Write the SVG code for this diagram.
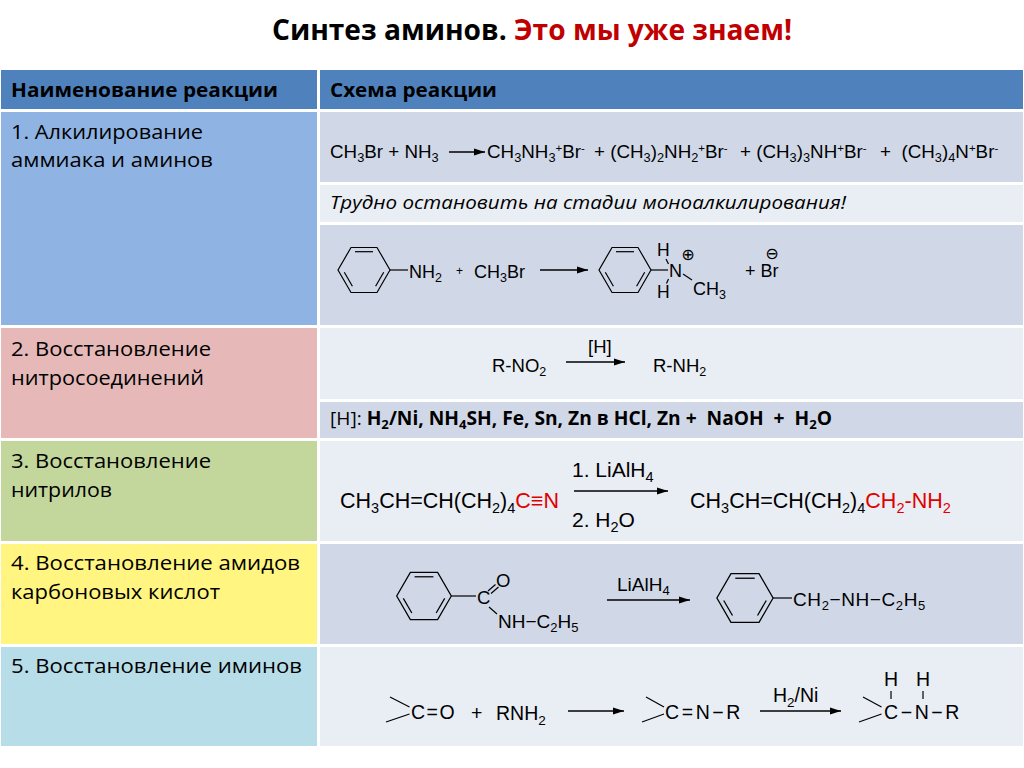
<svg xmlns="http://www.w3.org/2000/svg" xmlns:xlink="http://www.w3.org/1999/xlink" width="1024" height="768" viewBox="0 0 1024 768">
<style>
.cal{font-family:"Open Sans","Noto Sans","DejaVu Sans",sans-serif;fill:#000}
.chem{font-family:"Liberation Sans",Arial,"DejaVu Sans",sans-serif;fill:#000}
.red{fill:#E00000}
.bond{stroke:#000;stroke-width:1.2;fill:none}
.arr{stroke:#000;stroke-width:1.3;fill:none;marker-end:url(#ah)}
.hdr{fill:#4F81BD}
.dk{fill:#D0D8E8}
.lt{fill:#E9EDF4}
.sym{font-family:"DejaVu Sans",sans-serif;fill:#000}
</style>
<defs>
<marker id="ah" markerUnits="userSpaceOnUse" markerWidth="12" markerHeight="8" refX="11" refY="4" orient="auto">
<path d="M0,0.5 L11,4 L0,7.5 Z" fill="#000"/>
</marker>
<g id="benz">
<polygon points="26,0 13,22.5 -13,22.5 -26,0 -13,-22.5 13,-22.5" class="bond"/>
<line x1="-9" y1="-18.3" x2="9" y2="-18.3" class="bond"/>
<line x1="19.7" y1="2.3" x2="11.6" y2="16.2" class="bond"/>
<line x1="-11.6" y1="16.2" x2="-19.7" y2="2.3" class="bond"/>
</g>
</defs>
<rect width="1024" height="768" fill="#fff"/>

<g id="title">
<text class="cal" x="272" y="40" font-size="28.5" font-weight="bold" textLength="520" lengthAdjust="spacingAndGlyphs">Синтез аминов. <tspan fill="#C00000">Это мы уже знаем!</tspan></text>
</g>

<g id="header-name">
<rect class="hdr" x="1" y="70" width="316" height="39"/>
<text class="cal" x="11" y="97" font-size="19.5" font-weight="bold" textLength="267" lengthAdjust="spacingAndGlyphs">Наименование реакции</text>
</g>
<g id="header-scheme">
<rect class="hdr" x="320" y="70" width="703" height="39"/>
<text class="cal" x="330" y="97" font-size="19.5" font-weight="bold" textLength="167" lengthAdjust="spacingAndGlyphs">Схема реакции</text>
</g>

<g id="row1-name">
<rect x="1" y="112" width="316" height="213" fill="#8FB4E3"/>
<text class="cal" x="11" y="139" font-size="20.5" textLength="192" lengthAdjust="spacingAndGlyphs">1. Алкилирование</text>
<text class="cal" x="11" y="167" font-size="20.5" textLength="202" lengthAdjust="spacingAndGlyphs">аммиака и аминов</text>
</g>
<g id="row2-name">
<rect x="1" y="328" width="316" height="110" fill="#E6B9B8"/>
<text class="cal" x="11" y="356" font-size="20.5" textLength="200" lengthAdjust="spacingAndGlyphs">2. Восстановление</text>
<text class="cal" x="11" y="385" font-size="20.5" textLength="193" lengthAdjust="spacingAndGlyphs">нитросоединений</text>
</g>
<g id="row3-name">
<rect x="1" y="441" width="316" height="100" fill="#C3D69B"/>
<text class="cal" x="11" y="468" font-size="20.5" textLength="200" lengthAdjust="spacingAndGlyphs">3. Восстановление</text>
<text class="cal" x="11" y="497" font-size="20.5" textLength="101" lengthAdjust="spacingAndGlyphs">нитрилов</text>
</g>
<g id="row4-name">
<rect x="1" y="544" width="316" height="100" fill="#FFF580"/>
<text class="cal" x="11" y="570" font-size="20.5" textLength="289" lengthAdjust="spacingAndGlyphs">4. Восстановление амидов</text>
<text class="cal" x="11" y="599" font-size="20.5" textLength="209" lengthAdjust="spacingAndGlyphs">карбоновых кислот</text>
</g>
<g id="row5-name">
<rect x="1" y="647" width="316" height="99" fill="#B7DDE8"/>
<text class="cal" x="11" y="673" font-size="20.5" textLength="291" lengthAdjust="spacingAndGlyphs">5. Восстановление иминов</text>
</g>

<g id="row1-scheme-a">
<rect class="dk" x="320" y="112" width="703" height="70"/>
<text class="chem" x="330" y="158" font-size="18.8">CH<tspan font-size="12.8" dy="4">3</tspan><tspan dy="-4">Br + NH</tspan><tspan font-size="12.8" dy="4">3</tspan></text>
<text class="chem" x="487" y="158" font-size="18.8">CH<tspan font-size="12.8" dy="4">3</tspan><tspan dy="-4">NH</tspan><tspan font-size="12.8" dy="4">3</tspan><tspan font-size="11.5" dy="-10">+</tspan><tspan dy="6">Br</tspan><tspan font-size="11.5" dy="-6">-</tspan></text>
<text class="chem" x="594" y="158" font-size="18.8">+ (CH<tspan font-size="12.8" dy="4">3</tspan><tspan dy="-4">)</tspan><tspan font-size="12.8" dy="4">2</tspan><tspan dy="-4">NH</tspan><tspan font-size="12.8" dy="4">2</tspan><tspan font-size="11.5" dy="-10">+</tspan><tspan dy="6">Br</tspan><tspan font-size="11.5" dy="-6">-</tspan></text>
<text class="chem" x="740" y="158" font-size="18.8">+ (CH<tspan font-size="12.8" dy="4">3</tspan><tspan dy="-4">)</tspan><tspan font-size="12.8" dy="4">3</tspan><tspan dy="-4">NH</tspan><tspan font-size="11.5" dy="-6">+</tspan><tspan dy="6">Br</tspan><tspan font-size="11.5" dy="-6">-</tspan></text>
<text class="chem" x="880" y="158" font-size="18.8" xml:space="preserve">+  (CH<tspan font-size="12.8" dy="4">3</tspan><tspan dy="-4">)</tspan><tspan font-size="12.8" dy="4">4</tspan><tspan dy="-4">N</tspan><tspan font-size="11.5" dy="-6">+</tspan><tspan dy="6">Br</tspan><tspan font-size="11.5" dy="-6">-</tspan></text>
</g>
<g id="row1-scheme-b">
<rect class="lt" x="320" y="185" width="703" height="37"/>
<text class="cal" x="330" y="209" font-size="19" font-style="italic" textLength="516" lengthAdjust="spacingAndGlyphs">Трудно остановить на стадии моноалкилирования!</text>
</g>
<g id="row1-scheme-c">
<rect class="dk" x="320" y="225" width="703" height="100"/>
<use xlink:href="#benz" href="#benz" transform="translate(364,270)"/>
<line class="bond" x1="390" y1="270" x2="408" y2="270"/>
<text class="chem" x="409" y="278" font-size="18">NH<tspan font-size="12.5" dy="4">2</tspan></text>
<text class="chem" x="456" y="275" font-size="12">+</text>
<text class="chem" x="474" y="278" font-size="18">CH<tspan font-size="12.5" dy="4">3</tspan><tspan dy="-4">Br</tspan></text>
<use xlink:href="#benz" href="#benz" transform="translate(625,270)"/>
<line class="bond" x1="651" y1="270" x2="668" y2="270"/>
<text class="chem" x="669" y="277" font-size="18">N</text>
<text class="chem" x="657" y="256" font-size="17.5">H</text>
<text class="chem" x="657" y="298" font-size="17.5">H</text>
<line class="bond" x1="666" y1="259" x2="668.5" y2="264"/>
<line class="bond" x1="668.5" y1="279" x2="666.5" y2="283.5"/>
<line class="bond" x1="683" y1="274" x2="692" y2="280"/>
<text class="sym" x="688" y="260" font-size="16" text-anchor="middle">⊕</text>
<text class="chem" x="693" y="295" font-size="18">CH<tspan font-size="12.5" dy="4">3</tspan></text>
<text class="chem" x="745" y="277" font-size="18">+ Br</text>
<text class="sym" x="772" y="259" font-size="16" text-anchor="middle">⊖</text>
</g>

<g id="row2-scheme-a">
<rect class="lt" x="320" y="328" width="703" height="71"/>
<text class="chem" x="492" y="372" font-size="18.5">R-NO<tspan font-size="12.5" dy="4">2</tspan></text>
<text class="chem" x="588" y="353" font-size="18.5">[H]</text>
<text class="chem" x="653" y="372" font-size="18.5">R-NH<tspan font-size="12.5" dy="4">2</tspan></text>
</g>
<g id="row2-scheme-b">
<rect class="dk" x="320" y="402" width="703" height="36"/>
<text class="cal" x="330" y="425" font-size="19" textLength="502" lengthAdjust="spacingAndGlyphs" xml:space="preserve">[H]: <tspan font-weight="bold">H<tspan font-size="13" dy="4">2</tspan><tspan dy="-4">/Ni, NH</tspan><tspan font-size="13" dy="4">4</tspan><tspan dy="-4">SH, Fe, Sn, Zn в HCl, Zn +  NaOH  +  H</tspan><tspan font-size="13" dy="4">2</tspan><tspan dy="-4">O</tspan></tspan></text>
</g>

<g id="row3-scheme">
<rect class="lt" x="320" y="441" width="703" height="100"/>
<text class="chem" x="340" y="508" font-size="21.5">CH<tspan font-size="14.5" dy="5">3</tspan><tspan dy="-5">CH=CH(CH</tspan><tspan font-size="14.5" dy="5">2</tspan><tspan dy="-5">)</tspan><tspan font-size="14.5" dy="5">4</tspan><tspan dy="-5" class="red">C≡N</tspan></text>
<text class="chem" x="572" y="477" font-size="21">1. LiAlH<tspan font-size="14.5" dy="5">4</tspan></text>
<text class="chem" x="572" y="527" font-size="21">2. H<tspan font-size="14.5" dy="5">2</tspan><tspan dy="-5">O</tspan></text>
<text class="chem" x="690" y="508" font-size="21.5">CH<tspan font-size="14.5" dy="5">3</tspan><tspan dy="-5">CH=CH(CH</tspan><tspan font-size="14.5" dy="5">2</tspan><tspan dy="-5">)</tspan><tspan font-size="14.5" dy="5">4</tspan><tspan dy="-5" class="red">CH</tspan><tspan font-size="14.5" dy="5" class="red">2</tspan><tspan dy="-5" class="red">-NH</tspan><tspan font-size="14.5" dy="5" class="red">2</tspan></text>
</g>

<g id="row4-scheme">
<rect class="dk" x="320" y="544" width="703" height="100"/>
<use xlink:href="#benz" href="#benz" transform="translate(424,596) scale(1.05)"/>
<line class="bond" x1="451.3" y1="596" x2="476" y2="596"/>
<text class="chem" x="477" y="604" font-size="18.5">C</text>
<text class="chem" x="496" y="587" font-size="18.5">O</text>
<line class="bond" x1="488" y1="591" x2="495.5" y2="584.5"/>
<line class="bond" x1="491" y1="593.5" x2="498.5" y2="587"/>
<line class="bond" x1="489" y1="607" x2="497" y2="614"/>
<text class="chem" x="498" y="628" font-size="19">NH−C<tspan font-size="13" dy="4">2</tspan><tspan dy="-4">H</tspan><tspan font-size="13" dy="4">5</tspan></text>
<text class="chem" x="617" y="591" font-size="19">LiAlH<tspan font-size="13" dy="4">4</tspan></text>
<use xlink:href="#benz" href="#benz" transform="translate(745,598) scale(1.08)"/>
<line class="bond" x1="773" y1="598" x2="792" y2="598"/>
<text class="chem" x="793" y="606" font-size="19" letter-spacing="0.6">CH<tspan font-size="13" dy="4">2</tspan><tspan dy="-4">−NH−C</tspan><tspan font-size="13" dy="4">2</tspan><tspan dy="-4">H</tspan><tspan font-size="13" dy="4">5</tspan></text>
</g>

<g id="row5-scheme">
<rect class="lt" x="320" y="647" width="703" height="99"/>
<line class="bond" x1="390" y1="697" x2="409.5" y2="707"/>
<line class="bond" x1="386" y1="722" x2="409.5" y2="714"/>
<text class="chem" x="411" y="719" font-size="19.5" letter-spacing="1.5">C=O</text>
<text class="chem" x="471" y="720" font-size="19.5">+</text>
<text class="chem" x="496" y="720" font-size="19.5">RNH<tspan font-size="13.5" dy="5">2</tspan></text>
<line class="bond" x1="646" y1="697" x2="664" y2="707"/>
<line class="bond" x1="642" y1="722" x2="664" y2="714"/>
<text class="chem" x="665" y="719" font-size="19.5" letter-spacing="2.6">C=N−R</text>
<text class="chem" x="773" y="702" font-size="19.5">H<tspan font-size="13.5" dy="5">2</tspan><tspan dy="-5">/Ni</tspan></text>
<line class="bond" x1="863" y1="697" x2="881.5" y2="707"/>
<line class="bond" x1="859" y1="722" x2="881.5" y2="714"/>
<text class="chem" x="884" y="719" font-size="19.5" letter-spacing="2.6">C−N−R</text>
<text class="chem" x="884" y="686" font-size="19.5">H</text>
<text class="chem" x="916" y="686" font-size="19.5">H</text>
<line class="bond" x1="891" y1="691" x2="891" y2="699"/>
<line class="bond" x1="923" y1="691" x2="923" y2="699"/>
</g>

<g id="connectors">
<line class="arr" x1="449" y1="152" x2="485" y2="152"/>
<line class="arr" x1="540" y1="270" x2="588" y2="270"/>
<line class="arr" x1="566" y1="362" x2="625" y2="362"/>
<line class="arr" x1="574" y1="491" x2="668" y2="491"/>
<line class="arr" x1="607" y1="600" x2="690" y2="600"/>
<line class="arr" x1="568" y1="711" x2="624" y2="711"/>
<line class="arr" x1="760" y1="711" x2="841" y2="711"/>
</g>
</svg>
